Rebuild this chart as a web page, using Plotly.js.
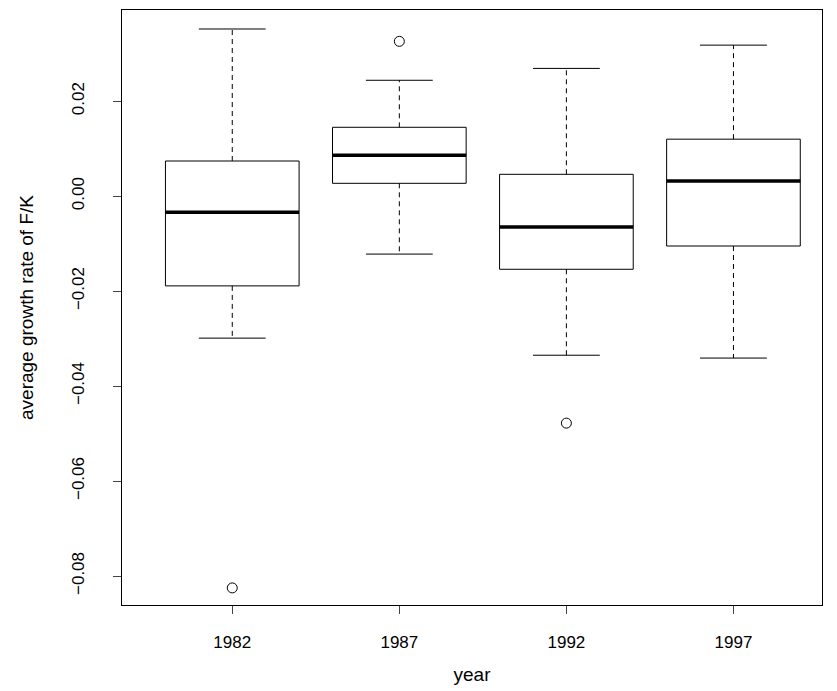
<!DOCTYPE html>
<html>
<head>
<script src="https://cdn.plot.ly/plotly-3.0.1.min.js"></script>
<style>body{margin:0;background:#fff}</style>
</head>
<body>
<div id="chart" style="width:837px;height:691px"></div>
<script>
var years = ['1982', '1987', '1992', '1997'];
var lower = [-0.0299, -0.0122, -0.0335, -0.0341];
var q1 = [-0.0189, 0.0027, -0.0154, -0.0105];
var median = [-0.0034, 0.0086, -0.0065, 0.0032];
var q3 = [0.0074, 0.0145, 0.0046, 0.0120];
var upper = [0.0352, 0.0244, 0.0269, 0.0318];
var outX = [1, 2, 3];
var outY = [-0.0825, 0.0326, -0.0478];

var half = 0.4, cap = 0.2;
var traces = [];
function line(x, y, w, dash) {
    traces.push({x: x, y: y, type: 'scatter', mode: 'lines', hoverinfo: 'skip',
        line: {color: 'black', width: w, dash: dash || 'solid'}});
}
for (var i = 0; i < years.length; i++) {
    var c = i + 1;
    line([c - half, c + half, c + half, c - half, c - half], [q1[i], q1[i], q3[i], q3[i], q1[i]], 1);
    line([c - half, c + half], [median[i], median[i]], 3.5);
    line([c, c], [q3[i], upper[i]], 1, '5px,4px');
    line([c, c], [q1[i], lower[i]], 1, '5px,4px');
    line([c - cap, c + cap], [upper[i], upper[i]], 1);
    line([c - cap, c + cap], [lower[i], lower[i]], 1);
}
traces.push({x: outX, y: outY, type: 'scatter', mode: 'markers',
    marker: {symbol: 'circle-open', size: 10, color: 'black', line: {width: 1}}});

var layout = {
    showlegend: false,
    paper_bgcolor: 'white', plot_bgcolor: 'white',
    margin: {l: 122, r: 15, t: 10, b: 86},
    font: {family: 'Liberation Sans, Arial, sans-serif', size: 16, color: 'black'},
    xaxis: {
        range: [0.34, 4.53], tickvals: [1, 2, 3, 4], ticktext: years,
        ticks: 'outside', ticklen: 8, showgrid: false, zeroline: false,
        showline: true, mirror: true, linecolor: 'black',
        ticklabelstandoff: 14, tickfont: {size: 17},
        title: {text: 'year', standoff: 16}
    },
    yaxis: {
        range: [-0.0861, 0.0392], tickvals: [-0.08, -0.06, -0.04, -0.02, 0, 0.02],
        ticktext: ['\u22120.08', '\u22120.06', '\u22120.04', '\u22120.02', '0.00', '0.02'],
        tickangle: -90, ticks: 'outside', ticklen: 8, showgrid: false, zeroline: false,
        showline: true, mirror: true, linecolor: 'black',
        ticklabelstandoff: 22, tickfont: {size: 17},
        title: {text: 'average growth rate of F/K', standoff: 30}
    }
};
Plotly.newPlot('chart', traces, layout, {displayModeBar: false});
</script>
</body>
</html>
